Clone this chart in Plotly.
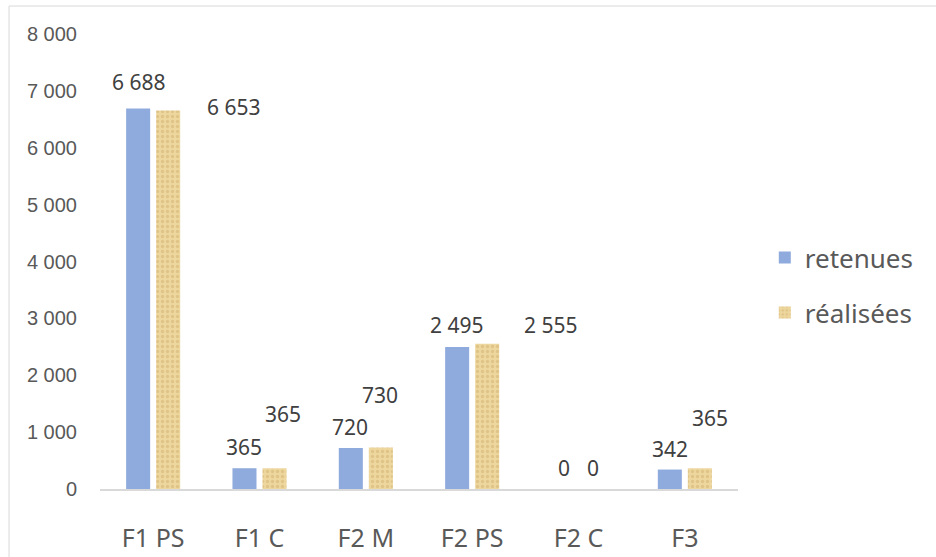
import plotly.graph_objects as go

categories = ["F1 PS", "F1 C", "F2 M", "F2 PS", "F2 C", "F3"]
retenues = [6688, 365, 720, 2495, 0, 342]
realisees = [6653, 365, 730, 2555, 0, 365]
series_names = ["retenues", "réalisées"]
y_ticks = [0, 1000, 2000, 3000, 4000, 5000, 6000, 7000, 8000]
y_tick_text = ["0", "1 000", "2 000", "3 000", "4 000", "5 000", "6 000", "7 000", "8 000"]

# label offsets (pixels) relative to category centre / bar top
ret_dx = [-14, -16, -16, -15, -15, -15]
ret_dy = [27, 21, 21, 22, 21, 21]
rea_dx = [81, 23, 14, 79, 14, 25]
rea_dy = [4, 54, 52, 19, 21, 50]

def fmt(v):
    return f"{v:,}".replace(",", " ")

BLUE = "#8FAADC"
BEIGE = "#EED79E"
LABEL_FONT = "Noto Sans"

fig = go.Figure()
fig.add_trace(go.Bar(
    name=series_names[0], x=categories, y=retenues,
    marker=dict(color=BLUE, line=dict(width=0)),
    legendgroup="a",
))
fig.add_trace(go.Bar(
    name=series_names[1], x=categories, y=realisees,
    marker=dict(color=BEIGE, line=dict(width=0),
                pattern=dict(shape=".", fgcolor="#E0C487", bgcolor=BEIGE,
                             size=5, solidity=0.35, fillmode="replace")),
    legendgroup="b",
))

for vals, dxs, dys in ((retenues, ret_dx, ret_dy), (realisees, rea_dx, rea_dy)):
    for c, v, dx, dy in zip(categories, vals, dxs, dys):
        fig.add_annotation(x=c, y=v, text=fmt(v), showarrow=False,
                           xshift=dx, yshift=dy, xanchor="center", yanchor="middle",
                           font=dict(family=LABEL_FONT, size=21, color="#404040"))

fig.update_layout(
    width=936, height=557,
    margin=dict(l=100, r=198, t=34, b=68, autoexpand=False),
    paper_bgcolor="white", plot_bgcolor="white",
    barmode="group", bargap=0.435, bargroupgap=0.2,
    showlegend=True,
    legend=dict(x=1.042, y=0.56, xanchor="left", yanchor="top",
                font=dict(family=LABEL_FONT, size=26, color="#595959"),
                traceorder="grouped", tracegroupgap=18, itemwidth=30),
    xaxis=dict(showline=True, linecolor="#D9D9D9", linewidth=2,
               showgrid=False, ticks="", ticklabelstandoff=26, automargin=False,
               tickfont=dict(family=LABEL_FONT, size=25, color="#595959")),
    yaxis=dict(range=[0, 8000], tickvals=y_ticks, ticktext=y_tick_text,
               showgrid=False, zeroline=False, showline=False, ticks="",
               ticklabelstandoff=22, automargin=False,
               tickfont=dict(family="Liberation Sans", size=20, color="#595959")),
    shapes=[dict(type="rect", xref="paper", yref="paper",
                 x0=-0.1426, x1=1.32, y0=-0.16, y1=1.0615,
                 line=dict(color="#D9D9D9", width=1), fillcolor="rgba(0,0,0,0)",
                 layer="below")],
)

fig.write_html("out.html",
               config={"displayModeBar": False},
               post_script="document.body.style.margin='0';document.body.style.overflow='hidden';")
